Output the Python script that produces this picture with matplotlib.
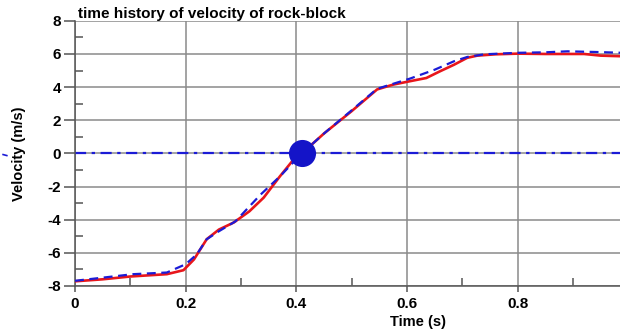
import numpy as np
import matplotlib.pyplot as plt
from matplotlib.lines import Line2D

plt.rcParams['font.family'] = ['Liberation Sans', 'DejaVu Sans']
plt.rcParams['font.weight'] = 'bold'
plt.rcParams['axes.unicode_minus'] = False

# red solid curve
t_red = [0.0, 0.05, 0.10, 0.166, 0.196, 0.215, 0.238, 0.26, 0.287, 0.315, 0.341, 0.37, 0.395, 0.41,
         0.45, 0.50, 0.546, 0.575, 0.606, 0.635, 0.66, 0.685, 0.709, 0.727, 0.76, 0.80, 0.85, 0.92, 0.95, 0.99]
v_red = [-7.72, -7.6, -7.43, -7.29, -7.05, -6.4, -5.18, -4.6, -4.17, -3.5, -2.67, -1.4, -0.37, 0.0,
         1.2, 2.55, 3.86, 4.15, 4.36, 4.55, 4.96, 5.35, 5.77, 5.9, 5.98, 6.02, 6.0, 6.0, 5.9, 5.86]

# blue dashed curve
t_blue = [0.0, 0.05, 0.105, 0.166, 0.2, 0.22, 0.238, 0.26, 0.29, 0.335, 0.37, 0.41,
          0.45, 0.50, 0.546, 0.606, 0.65, 0.685, 0.709, 0.74, 0.80, 0.85, 0.89, 0.94, 0.99]
v_blue = [-7.69, -7.5, -7.29, -7.19, -6.69, -6.1, -5.18, -4.7, -4.1, -2.5, -1.4, 0.0,
          1.2, 2.6, 3.9, 4.52, 5.05, 5.56, 5.82, 5.98, 6.07, 6.1, 6.16, 6.12, 6.07]

impact_t, impact_v = 0.41, 0.0

fig = plt.figure(figsize=(6.2, 3.36), dpi=100)
ax = fig.add_axes([0.121, 0.149, 0.879, 0.789])

ax.plot(t_red, v_red, color='#e8161b', lw=1.9, zorder=3)
ax.plot(t_blue, v_blue, color='#1b1bd6', lw=1.6, ls=(0, (4, 2.5)), zorder=4)
ax.axhline(0, color='#1b1bd6', lw=1.6, ls=(0, (5, 2.5, 1.5, 2.5)), zorder=2)
ax.plot([impact_t], [impact_v], 'o', color='#1414c8', ms=18.5, zorder=5)

ax.set_xlim(0, 0.985)
ax.set_ylim(-8, 8)
ax.set_xticks([0, 0.2, 0.4, 0.6, 0.8])
ax.set_xticklabels(['0', '0.2', '0.4', '0.6', '0.8'])
ax.set_yticks(np.arange(-8, 9, 2))
ax.set_xticks(np.arange(0.1, 1.0, 0.2), minor=True)
ax.set_yticks(np.arange(-7, 8, 2), minor=True)
ax.grid(True, which='major', color='#8a8a8a', lw=1.1)
ax.tick_params(axis='both', which='major', labelsize=11, width=1.1, color='#555555')
ax.tick_params(axis='y', which='major', direction='out', length=8, pad=2)
ax.tick_params(axis='x', which='major', direction='out', length=4, pad=4)
ax.tick_params(axis='both', which='minor', direction='in', length=6, width=1.1, color='#555555')

for s in ['top', 'right']:
    ax.spines[s].set_visible(False)
for s in ['left', 'bottom']:
    ax.spines[s].set_color('#555555')
    ax.spines[s].set_linewidth(1.1)

ax.set_title('time history of velocity of rock-block', loc='left', fontsize=11,
             fontweight='bold', pad=2, x=0.006)
ax.set_ylabel('Velocity (m/s)', fontsize=10.5, fontweight='bold')
ax.yaxis.set_label_coords(-0.09, 0.5)
ax.set_xlabel('Time (s)', fontsize=10.5, fontweight='bold')
ax.xaxis.set_label_coords(0.63, -0.11)

# small blue mark left of the y label
fig.add_artist(Line2D([0.005, 0.011], [0.54, 0.537], color='#1b1bd6', lw=1.2))

fig.savefig('out.png', dpi=100)
